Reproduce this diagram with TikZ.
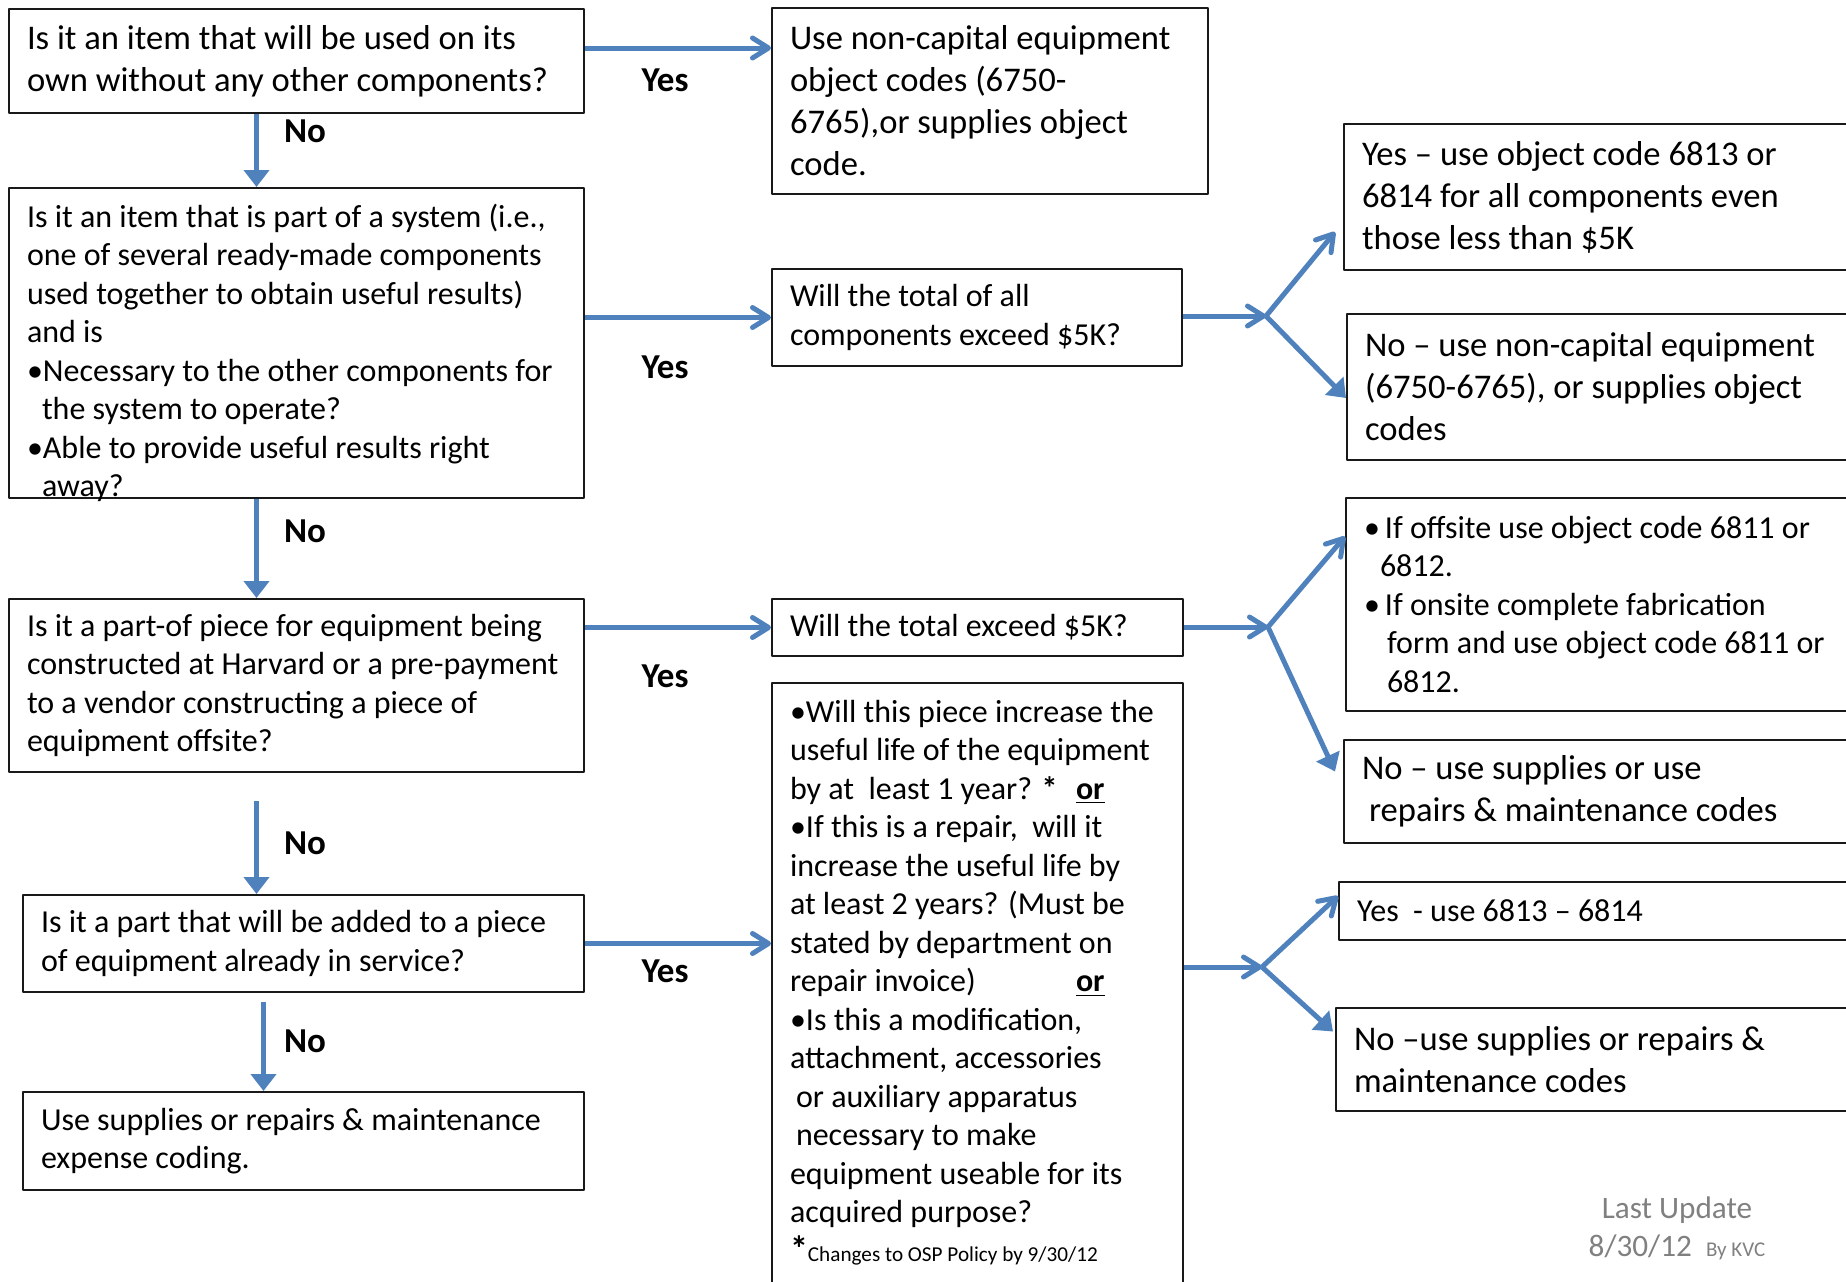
\documentclass[tikz,border=0pt]{standalone}
\usepackage{fontspec}
\setmainfont{Carlito}
\usetikzlibrary{arrows.meta}

\definecolor{flowblue}{RGB}{79,129,189}
\definecolor{notegray}{RGB}{128,128,128}

\begin{document}
\begin{tikzpicture}[
            x = 0.5pt, y = -0.5pt, % one unit = one pixel of the chart, y going down
            > = {Straight Barb[length=8pt, width=10pt, round]}, % open arrow head
            line join = round
        ]

        \tikzstyle{qbox}=[
            draw = black!90,
            line width = 1pt,
            anchor = north west,
            align = flush left,
            inner xsep = 9pt,
            inner ysep = 2pt
        ]
        \tikzstyle{bigtext}=[font=\fontsize{17.3}{21}\selectfont]
        \tikzstyle{smalltext}=[font=\fontsize{16}{19.25}\selectfont]
        \tikzstyle{answer}=[font=\fontsize{17.5}{21}\selectfont\bfseries]
        \tikzstyle{flow}=[flowblue, line width=2.5pt, ->]
        \tikzstyle{flowdown}=[flowblue, line width=2.5pt, -{Triangle[length=8.5pt, width=12.5pt]}]

        \useasboundingbox (0,0) rectangle (1846,1281);

        % questions, left column
        \node[qbox, bigtext, text width=269.5pt, minimum height=52pt] (q1) at (8,8)
            {Is it an item that will be used on its\\own without any other components?};
        \node[qbox, smalltext, text width=269.5pt, inner ysep=0pt, text height=19.7pt, text depth=135.3pt] (q2) at (8,187)
            {Is it an item that is part of a system (i.e.,\\
             one of several ready-made components\\
             used together to obtain useful results)\\
             and is\\
             •Necessary to the other components for\\
             \hspace*{7.5pt}the system to operate?\\
             •Able to provide useful results right\\
             \hspace*{7.5pt}away?};
        \node[qbox, smalltext, text width=269.5pt, minimum height=86.5pt] (q3) at (8,598)
            {Is it a part-of piece for equipment being\\constructed at Harvard or a pre-payment\\to a vendor constructing a piece of\\equipment offsite?};
        \node[qbox, smalltext, text width=262.5pt, minimum height=48.5pt] (q4) at (22,894)
            {Is it a part that will be added to a piece\\of equipment already in service?};
        \node[qbox, smalltext, text width=262.5pt, minimum height=49pt] (q5) at (22,1091)
            {Use supplies or repairs \& maintenance\\expense coding.};

        % middle column
        \node[qbox, bigtext, text width=200pt, minimum height=93pt] (a1) at (771,7)
            {Use non-capital equipment\\object codes (6750-\\6765),or supplies object\\code.};
        \node[qbox, smalltext, text width=187pt, minimum height=48.5pt] (a2) at (771,268)
            {Will the total of all\\components exceed \$5K?};
        \node[qbox, smalltext, text width=187.5pt, minimum height=28.5pt] (a3) at (771,598)
            {Will the total exceed \$5K?};
        \node[qbox, smalltext, text width=187.5pt, inner ysep=0pt, text height=19.7pt, text depth=285.3pt] (a4) at (771,682)
            {•Will this piece increase the\\
             useful life of the equipment\\
             \makebox[143pt][l]{by at\ \ least 1 year? \textbf{*}}\textbf{\underline{or}}\\
             •If this is a repair,\ \ will it\\
             increase the useful life by\\
             at least 2 years? (Must be\\
             stated by department on\\
             \makebox[143pt][l]{repair invoice)}\textbf{\underline{or}}\\
             •Is this a modification,\\
             attachment, accessories\\
             \hspace*{3pt}or auxiliary apparatus\\
             \hspace*{3pt}necessary to make\\
             equipment useable for its\\
             acquired purpose?\\
             {\fontsize{18}{18}\selectfont\bfseries *}{\fontsize{10.6}{12}\selectfont Changes to OSP Policy by 9/30/12}};

        % outcomes, right column
        \node[qbox, bigtext, text width=245.5pt, minimum height=73pt] (r1) at (1343,123)
            {Yes – use object code 6813 or\\6814 for all components even\\those less than \$5K};
        \node[qbox, bigtext, text width=245.5pt, minimum height=73pt] (r2) at (1346,313)
            {No – use non-capital equipment\\(6750-6765), or supplies object\\codes};
        \node[qbox, smalltext, text width=245.5pt, minimum height=106.5pt] (r3) at (1345,497)
            {•\hspace{2.5pt}If offsite use object code 6811 or\\
             \hspace*{8pt}6812.\\
             •\hspace{2.5pt}If onsite complete fabrication\\
             \hspace*{11.5pt}form and use object code 6811 or\\
             \hspace*{11.5pt}6812.};
        \node[qbox, bigtext, text width=245.5pt, minimum height=51.5pt] (r4) at (1343,739)
            {No – use supplies or use\\\hspace*{3.5pt}repairs \& maintenance codes};
        \node[qbox, smalltext, text width=245.5pt, minimum height=29pt] (r5) at (1338,881)
            {Yes\ \ - use 6813 – 6814};
        \node[qbox, bigtext, text width=245.5pt, minimum height=51.5pt] (r6) at (1335,1007)
            {No –use supplies or repairs \&\\maintenance codes};

        % yes / no labels
        \node[answer] (no1) at (305,131) {No};
        \node[answer] (no2) at (305,531) {No};
        \node[answer] (no3) at (305,843) {No};
        \node[answer] (no4) at (305,1041) {No};
        \node[answer] (yes1) at (665,80) {Yes};
        \node[answer] (yes2) at (665,367) {Yes};
        \node[answer] (yes3) at (665,676) {Yes};
        \node[answer] (yes4) at (665,971) {Yes};

        \node[text=notegray, align=center, font=\fontsize{15.6}{19}\selectfont] (update) at (1677,1228)
            {Last Update\\8/30/12\ \ {\fontsize{10.5}{12}\selectfont By KVC}};

        % down the "No" branch
        \draw[flowdown] ([xshift=-20pt]q1.south) -- ([xshift=-20pt]q2.north);
        \draw[flowdown] ([xshift=-20pt]q2.south) -- ([xshift=-20pt]q3.north);
        \draw[flowdown] ([xshift=-20pt, yshift=-14pt]q3.south) -- ([xshift=-20pt]q3.south |- q4.north);
        \draw[flowdown] ([xshift=-20pt, yshift=-4.5pt]q4.south) -- ([xshift=-20pt]q5.north);

        % across on "Yes"
        \draw[flow] ([yshift=6.5pt]q1.east) -- ([yshift=6.5pt]q1.east -| a1.west);
        \draw[flow] (q2.east |- a2.west) -- (a2.west);
        \draw[flow] (q3.east |- a3.west) -- (a3.west);
        \draw[flow] (q4.east) -- (q4.east -| a4.west);

        \coordinate (fork1) at (1266,316);
        \coordinate (fork2) at (1268,627);
        \coordinate (fork3) at (1262,967);

        \draw[flow] (a2.east |- fork1) -- (fork1);
        \draw[flow] (fork1) -- ([xshift=-4pt, yshift=-17.5pt]r1.west);
        \draw[flowdown] (fork1) -- ([yshift=-5.5pt]r2.west);

        \draw[flow] (a3.east |- fork2) -- (fork2);
        \draw[flow] (fork2) -- ([yshift=34pt]r3.west);
        \draw[flowdown] (fork2) -- ([xshift=-4pt, yshift=10pt]r4.west);

        \draw[flow] (a4.east |- fork3) -- (fork3);
        \draw[flow] (fork3) -- ([yshift=7.5pt]r5.west);
        \draw[flowdown] (fork3) -- ([xshift=-1pt, yshift=14pt]r6.west);
    \end{tikzpicture}
\end{document}
